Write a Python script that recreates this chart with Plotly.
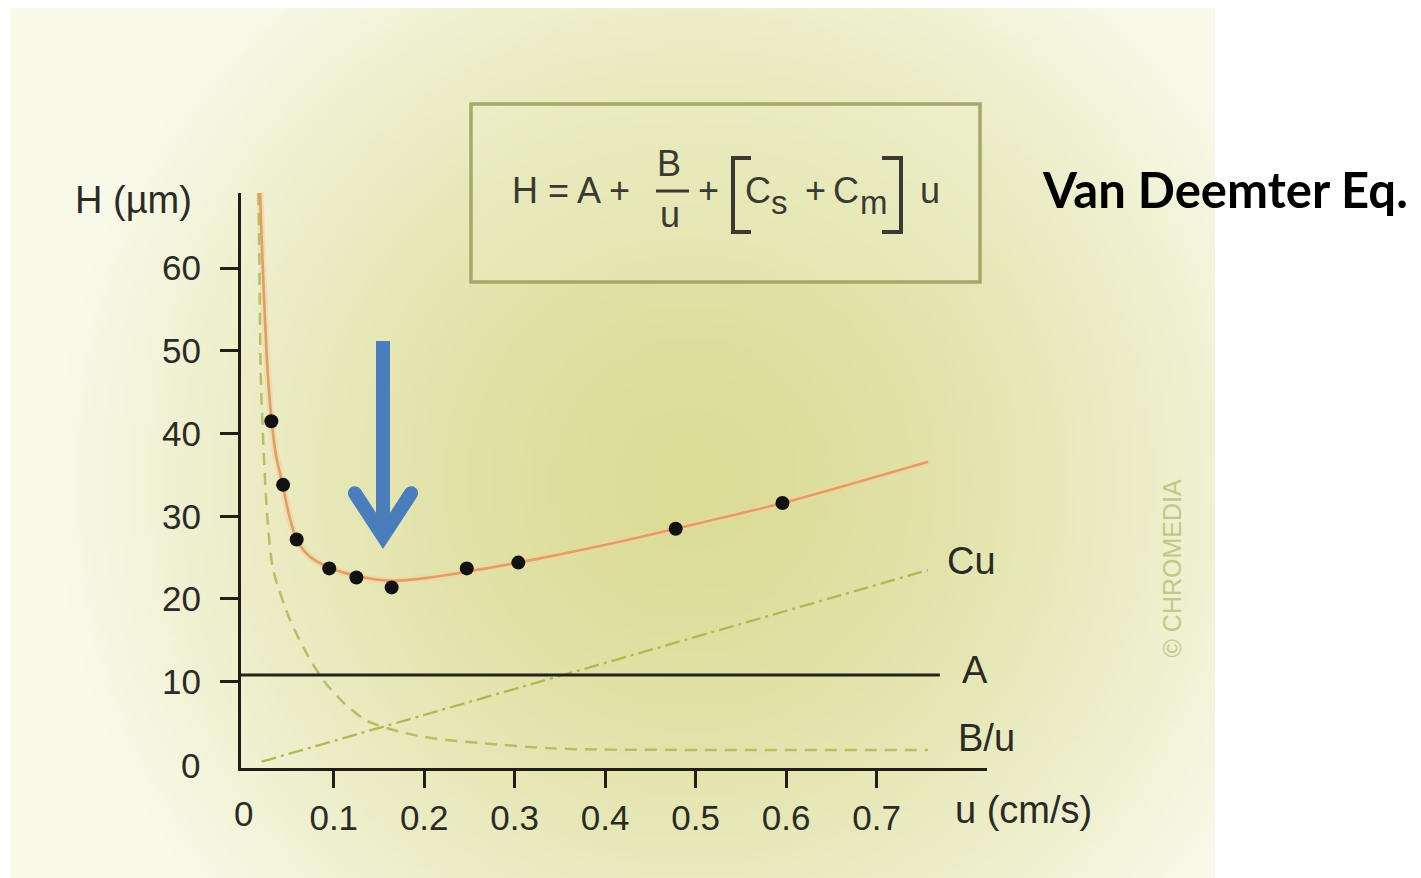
import base64, struct, zlib
import numpy as np
import plotly.graph_objects as go

# ---------------- data ----------------
u_meas = [0.031, 0.044, 0.059, 0.095, 0.125, 0.164, 0.247, 0.304, 0.478, 0.596]
H_meas = [41.5, 33.8, 27.2, 23.7, 22.6, 21.4, 23.7, 24.4, 28.5, 31.6]

fit_u = [0.0185, 0.0212, 0.024, 0.0268, 0.0314, 0.0361, 0.0436, 0.0505, 0.059, 0.0737,
         0.095, 0.1246, 0.162, 0.2064, 0.247, 0.304, 0.3943, 0.478, 0.596, 0.757]
fit_H = [69.1, 61.0, 53.7, 47.7, 41.5, 37.4, 33.8, 30.2, 27.2, 25.1,
         23.8, 22.8, 22.2, 22.6, 23.3, 24.4, 26.4, 28.5, 31.6, 36.6]

Bu_u = [0.0168, 0.0177, 0.0196, 0.0268, 0.0332, 0.0516, 0.0701, 0.0884, 0.1105, 0.1364,
        0.1732, 0.21, 0.2653, 0.339, 0.394, 0.505, 0.757]
Bu_H = [69.1, 61.3, 45.9, 29.6, 23.5, 17.5, 13.4, 10.2, 7.5, 5.3,
        3.95, 3.15, 2.55, 1.95, 1.8, 1.75, 1.75]

Cu_u = [0.0203, 0.757]
Cu_H = [0.33, 23.5]

A_value = 10.8
A_u_end = 0.770

x_ticks = [0.1, 0.2, 0.3, 0.4, 0.5, 0.6, 0.7]
x_ticktext = ["0.1", "0.2", "0.3", "0.4", "0.5", "0.6", "0.7"]
y_ticks = [10, 20, 30, 40, 50, 60]
y_ticktext = ["10", "20", "30", "40", "50", "60"]

X_RANGE = [-0.00254, 0.8221]
Y_RANGE = [-0.435, 69.09]

# ---------------- geometry (screen pixels; page body has an 8px margin) ----------------
OX, OY = 8, 8
FW, FH = 1421 - OX, 878 - OY
PL, PR, PT, PB = 241, 987, 193, 768
PW, PH = PR - PL, PB - PT


def fx(xp):
    return (xp - PL) / PW


def fy(yp):
    return (PB - yp) / PH


# ---------------- background gradient image ----------------
def png_data_uri(arr):
    h, w, _ = arr.shape
    raw = b"".join(b"\x00" + arr[r].tobytes() for r in range(h))

    def chunk(tag, data):
        c = struct.pack(">I", len(data)) + tag + data
        return c + struct.pack(">I", zlib.crc32(tag + data) & 0xFFFFFFFF)

    png = b"\x89PNG\r\n\x1a\n"
    png += chunk(b"IHDR", struct.pack(">IIBBBBB", w, h, 8, 2, 0, 0, 0))
    png += chunk(b"IDAT", zlib.compress(raw, 9))
    png += chunk(b"IEND", b"")
    return "data:image/png;base64," + base64.b64encode(png).decode()


BG_X0, BG_X1, BG_Y0, BG_Y1 = 10, 1215, 8, 878
gw, gh = 241, 175
gx = BG_X0 + (np.arange(gw) + 0.5) * (BG_X1 - BG_X0) / gw
gy = BG_Y0 + (np.arange(gh) + 0.5) * (BG_Y1 - BG_Y0) / gh
GX, GY = np.meshgrid(gx, gy)
d = np.sqrt(((GX - 690) / 630) ** 2 + ((GY - 480) / 640) ** 2)
t = np.clip(d, 0, 1) ** 1.5
dark = np.array([219, 220, 150], float)
light = np.array([248, 249, 232], float)
img = dark[None, None, :] + (light - dark)[None, None, :] * t[:, :, None]
img = np.clip(img, 0, 255).astype(np.uint8)
bg_uri = png_data_uri(img)

# ---------------- figure ----------------
fig = go.Figure()

fig.add_trace(go.Scatter(x=fit_u, y=fit_H, mode="lines",
                         line=dict(color="rgba(246,210,165,0.65)", width=7, shape="spline", smoothing=0.8),
                         hoverinfo="skip"))
fig.add_trace(go.Scatter(x=Bu_u, y=Bu_H, mode="lines",
                         line=dict(color="#b7bf62", width=2.5, dash="12px,8px", shape="spline", smoothing=0.8),
                         hoverinfo="skip"))
fig.add_trace(go.Scatter(x=Cu_u, y=Cu_H, mode="lines",
                         line=dict(color="#b0b84f", width=2.3, dash="15px,5px,3px,5px"),
                         hoverinfo="skip"))
fig.add_trace(go.Scatter(x=[X_RANGE[0], A_u_end], y=[A_value, A_value], mode="lines",
                         line=dict(color="#23231a", width=3), hoverinfo="skip"))
fig.add_trace(go.Scatter(x=fit_u, y=fit_H, mode="lines",
                         line=dict(color="#dfa064", width=2.6, shape="spline", smoothing=0.8),
                         hoverinfo="skip"))
fig.add_trace(go.Scatter(x=u_meas, y=H_meas, mode="markers",
                         marker=dict(color="#111111", size=14), hoverinfo="skip"))

TXT = "#2b2b25"
EQ = "#3a3a32"
FONT = "Liberation Sans, Arial, sans-serif"

annotations = []


def ann(text, xp, yp, size=34, color=TXT, xanchor="left", yanchor="middle", **kw):
    a = dict(text=text, x=fx(xp), y=fy(yp), xref="paper", yref="paper", showarrow=False,
             xanchor=xanchor, yanchor=yanchor, font=dict(family=FONT, size=size, color=color))
    a.update(kw)
    annotations.append(a)


ann("H (µm)", 194, 200, size=38, xanchor="right")
ann("u (cm/s)", 953, 810, size=38)
ann("0", 202, 765, size=35, xanchor="right")
ann("0", 243, 813, size=35, xanchor="center")
ann("Cu", 945, 561, size=38)
ann("A", 960, 670, size=38)
ann("B/u", 956, 738, size=38)
ann("© CHROMEDIA", 1171.5, 569, size=25, color="#c3c787", xanchor="center", textangle=-90)
annotations.append(dict(text="<b>Van Deemter Eq.</b>", x=fx(1040), y=fy(189), xref="paper", yref="paper",
                        showarrow=False, xanchor="left", yanchor="middle",
                        font=dict(family="Lato, Open Sans, sans-serif", size=49, color="black")))

ann("H = A +", 510, 190, size=36, color=EQ)
ann("B", 669, 163, size=36, color=EQ, xanchor="center")
ann("u", 670, 215, size=36, color=EQ, xanchor="center")
ann("+", 708, 190, size=36, color=EQ, xanchor="center")
ann("C", 743, 190, size=36, color=EQ)
ann("s", 769, 202, size=33, color=EQ)
ann("+", 815, 190, size=36, color=EQ, xanchor="center")
ann("C", 831, 190, size=36, color=EQ)
ann("m", 858, 202, size=33, color=EQ)
ann("u", 918, 190, size=36, color=EQ)

shapes = []


def path_from(points, close=True):
    s = "M " + " L ".join(f"{fx(px_):.5f},{fy(py_):.5f}" for px_, py_ in points)
    return s + (" Z" if close else "")


shapes.append(dict(type="rect", xref="paper", yref="paper", x0=fx(471), x1=fx(980), y0=fy(104), y1=fy(282),
                   line=dict(color="#a4a968", width=3.5), fillcolor="rgba(240,242,205,0.30)", layer="below"))
shapes.append(dict(type="line", xref="paper", yref="paper", x0=fx(656), x1=fx(689), y0=fy(191), y1=fy(191),
                   line=dict(color=EQ, width=3)))
shapes.append(dict(type="path", xref="paper", yref="paper",
                   path=path_from([(751, 158), (733, 158), (733, 232), (751, 232)], close=False),
                   line=dict(color=EQ, width=4)))
shapes.append(dict(type="path", xref="paper", yref="paper",
                   path=path_from([(882, 158), (901, 158), (901, 232), (882, 232)], close=False),
                   line=dict(color=EQ, width=4)))


def arc(c, r, a0, a1, n=8):
    angs = np.linspace(a0, a1, n)
    return [(c[0] + r * np.cos(a), c[1] + r * np.sin(a)) for a in angs]


tip = (383, 549)
A1, A2 = (349.0, 497.0), (360.7, 489.3)
CL = ((A1[0] + A2[0]) / 2, (A1[1] + A2[1]) / 2)
aL0 = np.arctan2(A1[1] - CL[1], A1[0] - CL[0])
left_cap = arc(CL, 7.0, aL0, aL0 + np.pi)
B1, B2 = (417.0, 497.0), (405.3, 489.3)
CR = ((B1[0] + B2[0]) / 2, (B1[1] + B2[1]) / 2)
aR0 = np.arctan2(B2[1] - CR[1], B2[0] - CR[0])
right_cap = arc(CR, 7.0, aR0, aR0 + np.pi)
arrow_pts = [tip] + left_cap + [(376, 512.7), (376, 341), (390, 341), (390, 512.7)] + right_cap
shapes.append(dict(type="path", xref="paper", yref="paper", path=path_from(arrow_pts),
                   line=dict(width=0), fillcolor="#4a7dbb"))

axis_common = dict(showline=True, linecolor="#1f1f18", linewidth=3, ticks="outside",
                   tickcolor="#1f1f18", tickwidth=2.5, showgrid=False, zeroline=False,
                   tickfont=dict(family=FONT, size=35, color=TXT))

fig.update_layout(
    width=FW, height=FH,
    margin=dict(l=PL - OX, r=(FW + OX) - PR, t=PT - OY, b=(FH + OY) - PB, pad=0),
    paper_bgcolor="white", plot_bgcolor="rgba(0,0,0,0)",
    showlegend=False,
    xaxis=dict(range=X_RANGE, tickvals=x_ticks, ticktext=x_ticktext, ticklen=17,
               ticklabelstandoff=0, **axis_common),
    yaxis=dict(range=Y_RANGE, tickvals=y_ticks, ticktext=y_ticktext, ticklen=18,
               ticklabelstandoff=12, **axis_common),
    annotations=annotations,
    shapes=shapes,
    images=[dict(source=bg_uri, xref="paper", yref="paper", x=fx(BG_X0), y=fy(BG_Y0),
                 sizex=(BG_X1 - BG_X0) / PW, sizey=(BG_Y1 - BG_Y0) / PH, sizing="stretch",
                 xanchor="left", yanchor="top", layer="below")],
)

fig.write_html("out.html")
